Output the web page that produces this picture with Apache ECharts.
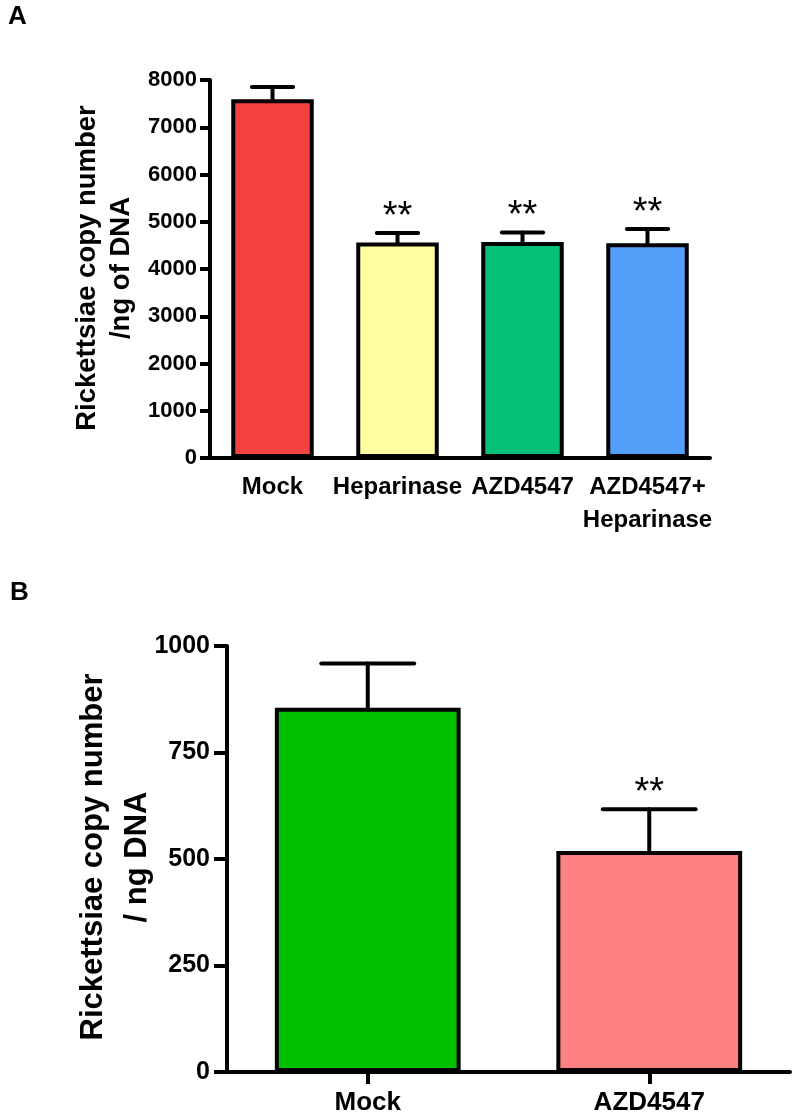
<!DOCTYPE html>
<html><head><meta charset="utf-8">
<script src="https://cdn.jsdelivr.net/npm/echarts@6/dist/echarts.min.js"></script>
<style>html,body{margin:0;padding:0;background:#fff}#c{width:792px;height:1113px}</style>
</head><body><div id="c"></div>
<script>
// Panel A
const catsA = ['Mock', 'Heparinase', 'AZD4547', 'AZD4547+\nHeparinase'];
const meanA = [7590, 4560, 4570, 4545];
const errA = [260, 200, 205, 300];
const sigA = ['', '**', '**', '**'];
const colorsA = ['#F64141', '#FFFF9F', '#06BF78', '#559FFB'];
const yTicksA = { min: 0, max: 8000, interval: 1000 };
const titleA = ['Rickettsiae copy number', '/ng of DNA'];

// Panel B
const catsB = ['Mock', 'AZD4547'];
const meanB = [855, 519];
const errB = [104, 98];
const sigB = ['', '**'];
const colorsB = ['#00C000', '#FF8080'];
const yTicksB = { min: 0, max: 1000, interval: 250 };
const titleB = ['Rickettsiae copy number', '/ ng DNA'];

const FONT = '"Liberation Sans", Arial, sans-serif';

function errRender(sig, starSize) {
  return function (params, api) {
    const i = api.value(0), m = api.value(1), e = api.value(2);
    const base = api.coord([i, m]);
    const top = api.coord([i, m + e]);
    const hw = api.size([1, 0])[0] * 0.66 / 4;
    const st = { stroke: '#000', lineWidth: 4, lineCap: 'round' };
    const children = [
      { type: 'line', shape: { x1: top[0], y1: base[1], x2: top[0], y2: top[1] }, style: st },
      { type: 'line', shape: { x1: top[0] - hw, y1: top[1], x2: top[0] + hw, y2: top[1] }, style: st }
    ];
    const s = sig[params.dataIndex];
    if (s) {
      children.push({
        type: 'text',
        style: { text: s, x: top[0], y: top[1] + 3, align: 'center', verticalAlign: 'bottom',
                 fill: '#000', font: 'normal ' + starSize + 'px ' + FONT }
      });
    }
    return { type: 'group', children };
  };
}

const chart = echarts.init(document.getElementById('c'), null, { renderer: 'canvas' });

const axisLineStyle = { show: true, lineStyle: { color: '#000', width: 4 } };
const plain = v => String(v);

chart.setOption({
  animation: false,
  backgroundColor: '#fff',
  grid: [
    { left: 210, right: 82, top: 80, bottom: 655, containLabel: false, outerBoundsMode: 'none' },
    { left: 227, right: 2, top: 646, bottom: 41, containLabel: false, outerBoundsMode: 'none' }
  ],
  xAxis: [
    { type: 'category', gridIndex: 0, data: catsA, axisLine: axisLineStyle,
      axisTick: { show: false },
      axisLabel: { color: '#000', fontWeight: 'bold', fontSize: 24, fontFamily: FONT, margin: 13, lineHeight: 33, interval: 0 } },
    { type: 'category', gridIndex: 1, data: catsB, axisLine: axisLineStyle,
      axisTick: { show: true, alignWithLabel: true, inside: false, length: 12, lineStyle: { color: '#000', width: 4 } },
      axisLabel: { color: '#000', fontWeight: 'bold', fontSize: 26, fontFamily: FONT, margin: 18, interval: 0 } }
  ],
  yAxis: [
    { type: 'value', gridIndex: 0, min: yTicksA.min, max: yTicksA.max, interval: yTicksA.interval,
      axisLine: axisLineStyle, splitLine: { show: false },
      axisTick: { show: true, length: 10, lineStyle: { color: '#000', width: 4 } },
      axisLabel: { color: '#000', fontWeight: 'bold', fontSize: 22, fontFamily: FONT, margin: 13, formatter: plain } },
    { type: 'value', gridIndex: 1, min: yTicksB.min, max: yTicksB.max, interval: yTicksB.interval,
      axisLine: axisLineStyle, splitLine: { show: false },
      axisTick: { show: true, length: 13, lineStyle: { color: '#000', width: 4 } },
      axisLabel: { color: '#000', fontWeight: 'bold', fontSize: 25, fontFamily: FONT, margin: 17, formatter: plain } }
  ],
  graphic: [
    { type: 'text', left: 8, top: 4, style: { text: 'A', font: 'bold 26px ' + FONT, fill: '#000' } },
    { type: 'text', left: 10, top: 580, style: { text: 'B', font: 'bold 26px ' + FONT, fill: '#000' } },
    { type: 'text', x: 87, y: 268, rotation: Math.PI / 2,
      style: { text: titleA[0], font: 'bold 27.5px ' + FONT, fill: '#000', align: 'center', verticalAlign: 'middle' } },
    { type: 'text', x: 121, y: 268, rotation: Math.PI / 2,
      style: { text: titleA[1], font: 'bold 27.5px ' + FONT, fill: '#000', align: 'center', verticalAlign: 'middle' } },
    { type: 'text', x: 93, y: 857, rotation: Math.PI / 2,
      style: { text: titleB[0], font: 'bold 31px ' + FONT, fill: '#000', align: 'center', verticalAlign: 'middle' } },
    { type: 'text', x: 137, y: 857, rotation: Math.PI / 2,
      style: { text: titleB[1], font: 'bold 31px ' + FONT, fill: '#000', align: 'center', verticalAlign: 'middle' } }
  ],
  series: [
    { type: 'custom', xAxisIndex: 0, yAxisIndex: 0, z: 1,
      renderItem: errRender(sigA, 38),
      data: meanA.map((v, i) => [i, v, errA[i]]) },
    { type: 'bar', xAxisIndex: 0, yAxisIndex: 0, z: 2, barCategoryGap: '34%',
      data: meanA.map((v, i) => ({ value: v, itemStyle: { color: colorsA[i] } })),
      itemStyle: { borderColor: '#000', borderWidth: 4 } },
    { type: 'custom', xAxisIndex: 1, yAxisIndex: 1, z: 1,
      renderItem: errRender(sigB, 38),
      data: meanB.map((v, i) => [i, v, errB[i]]) },
    { type: 'bar', xAxisIndex: 1, yAxisIndex: 1, z: 2, barCategoryGap: '34%',
      data: meanB.map((v, i) => ({ value: v, itemStyle: { color: colorsB[i] } })),
      itemStyle: { borderColor: '#000', borderWidth: 4 } }
  ]
});
</script></body></html>
